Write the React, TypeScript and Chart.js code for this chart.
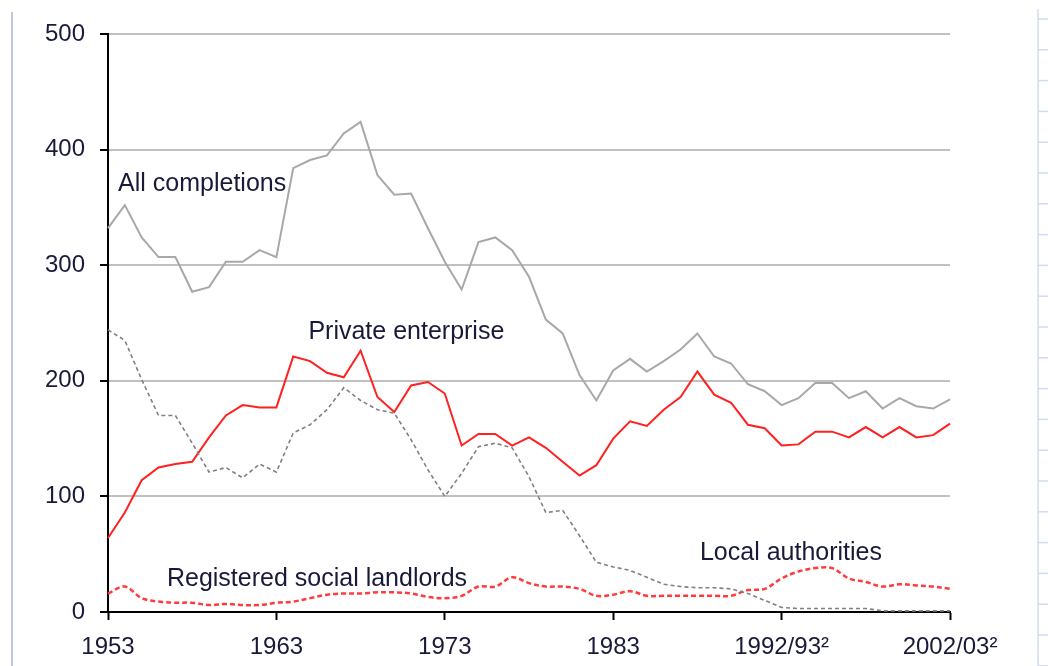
import React, { useEffect, useRef } from "react";
import { Chart, registerables } from "chart.js";

Chart.register(...registerables);

const categories = [
  "1953", "1954", "1955", "1956", "1957", "1958", "1959", "1960", "1961", "1962",
  "1963", "1964", "1965", "1966", "1967", "1968", "1969", "1970", "1971", "1972",
  "1973", "1974", "1975", "1976", "1977", "1978", "1979", "1980", "1981", "1982",
  "1983", "1984", "1985", "1986", "1987", "1988", "1989", "1990", "1990/91", "1991/92",
  "1992/93²", "1993/94", "1994/95", "1995/96", "1996/97", "1997/98", "1998/99", "1999/00", "2000/01", "2001/02",
  "2002/03²",
];

const xTickLabels = ["1953", "1963", "1973", "1983", "1992/93²", "2002/03²"];

const allCompletions = [
  332, 352, 324, 307, 307, 277, 281, 303, 303, 313,
  307, 384, 391, 395, 414, 424, 378, 361, 362, 332,
  303, 279, 320, 324, 313, 290, 253, 241, 205, 183,
  209, 219, 208, 217, 227, 241, 221, 215, 197, 191,
  179, 185, 198, 198, 185, 191, 176, 185, 178, 176,
  184,
];

const privateEnterprise = [
  64, 86, 114, 125, 128, 130, 151, 170, 179, 177,
  177, 221, 217, 207, 203, 226, 186, 173, 196, 199,
  189, 144, 154, 154, 144, 151, 142, 130, 118, 127,
  150, 165, 161, 175, 186, 208, 188, 181, 162, 159,
  144, 145, 156, 156, 151, 160, 151, 160, 151, 153,
  163,
];

const localAuthorities = [
  244, 235, 201, 170, 170, 146, 121, 125, 116, 128,
  121, 155, 162, 175, 194, 183, 175, 172, 149, 123,
  100, 120, 143, 146, 142, 117, 86, 88, 66, 43,
  39, 36, 30, 24, 22, 21, 21, 20, 16, 10,
  4, 3, 3, 3, 3, 3, 1, 1, 1, 1,
  1,
];

const registeredSocialLandlords = [
  16, 22, 12, 9, 8, 8, 6, 7, 6, 6,
  8, 9, 12, 15, 16, 16, 17, 17, 16, 13,
  12, 14, 22, 22, 30, 25, 22, 22, 20, 14,
  15, 18, 14, 14, 14, 14, 14, 14, 19, 20,
  29, 35, 38, 38, 29, 26, 22, 24, 23, 22,
  20,
];

// series annotations anchored in data space: [text, category index, value]
const annotationTexts = ["All completions", "Private enterprise", "Local authorities", "Registered social landlords"];
const annotationIndex = [0.6, 11.9, 35.15, 3.5];
const annotationValue = [370, 242, 51, 28.5];

const FONT = "'Liberation Sans', Arial, sans-serif";
const TEXT_COLOR = "#19193a";

const decorPlugin = {
  id: "decor",
  afterDraw(chart: any) {
    const { ctx } = chart;
    const xs = chart.scales.x;
    const ys = chart.scales.y;
    ctx.save();
    // page decorations
    ctx.strokeStyle = "#b9cbe2";
    ctx.lineWidth = 2;
    ctx.beginPath();
    ctx.moveTo(12, 12);
    ctx.lineTo(12, 666);
    ctx.stroke();
    ctx.strokeStyle = "#d3dbee";
    ctx.lineWidth = 1.5;
    ctx.beginPath();
    ctx.moveTo(1038, 9);
    ctx.lineTo(1038, 666);
    ctx.stroke();
    for (let y = 19; y < 666; y += 30.8) {
      ctx.beginPath();
      ctx.moveTo(1038, y);
      ctx.lineTo(1048, y);
      ctx.stroke();
    }
    // annotations
    ctx.fillStyle = TEXT_COLOR;
    ctx.font = `25px ${FONT}`;
    ctx.textAlign = "left";
    ctx.textBaseline = "middle";
    annotationTexts.forEach((t, i) => {
      const px = xs.getPixelForValue(annotationIndex[i]);
      const py = ys.getPixelForValue(annotationValue[i]);
      ctx.fillText(t, px, py);
    });
    ctx.restore();
  },
};

export default function App() {
  const ref = useRef<HTMLCanvasElement>(null);
  useEffect(() => {
    if (!ref.current) return;
    const chart = new Chart(ref.current, {
      type: "line",
      data: {
        labels: categories,
        datasets: [
          {
            label: "Local authorities",
            data: localAuthorities,
            borderColor: "#808080",
            borderWidth: 1.6,
            borderDash: [4, 3],
            pointRadius: 0,
            tension: 0,
          },
          {
            label: "Registered social landlords",
            data: registeredSocialLandlords,
            borderColor: "#ff3b3b",
            borderWidth: 2.5,
            borderDash: [5, 3],
            pointRadius: 0,
            tension: 0.35,
          },
          {
            label: "All completions",
            data: allCompletions,
            borderColor: "#a8a8a8",
            borderWidth: 2,
            pointRadius: 0,
            tension: 0,
          },
          {
            label: "Private enterprise",
            data: privateEnterprise,
            borderColor: "#ff2020",
            borderWidth: 2,
            pointRadius: 0,
            tension: 0,
          },
        ],
      },
      options: {
        animation: false,
        responsive: false,
        layout: { padding: { top: 34, right: 98, left: 0, bottom: 0 } },
        plugins: {
          legend: { display: false },
          tooltip: { enabled: false },
        },
        scales: {
          x: {
            type: "category",
            offset: false,
            grid: {
              drawOnChartArea: false,
              drawTicks: true,
              tickLength: 8,
              tickWidth: 2,
              tickColor: (c: any) => (xTickLabels.includes(categories[c.index]) ? "#000" : "rgba(0,0,0,0)"),
            },
            border: { color: "#000", width: 2 },
            ticks: {
              autoSkip: false,
              maxRotation: 0,
              minRotation: 0,
              padding: 13,
              color: TEXT_COLOR,
              font: { family: FONT, size: 24 },
              callback: (_v: any, i: number) => (xTickLabels.includes(categories[i]) ? categories[i] : ""),
            },
            afterFit: (s: any) => {
              s.height = 54;
            },
          },
          y: {
            min: 0,
            max: 500,
            grid: {
              color: "#c0c0c0",
              lineWidth: 2,
              drawTicks: true,
              tickLength: 8,
              tickWidth: 2,
              tickColor: "#000",
            },
            border: { color: "#000", width: 2 },
            ticks: {
              stepSize: 100,
              padding: 15,
              color: TEXT_COLOR,
              font: { family: FONT, size: 24 },
            },
            afterFit: (s: any) => {
              s.width = 108;
            },
          },
        },
      },
      plugins: [decorPlugin],
    });
    return () => chart.destroy();
  }, []);
  return (
    <div style={{ position: "fixed", left: 0, top: 0, width: 1048, height: 666, background: "#fff" }}>
      <canvas ref={ref} width={1048} height={666} style={{ display: "block" }} />
    </div>
  );
}
